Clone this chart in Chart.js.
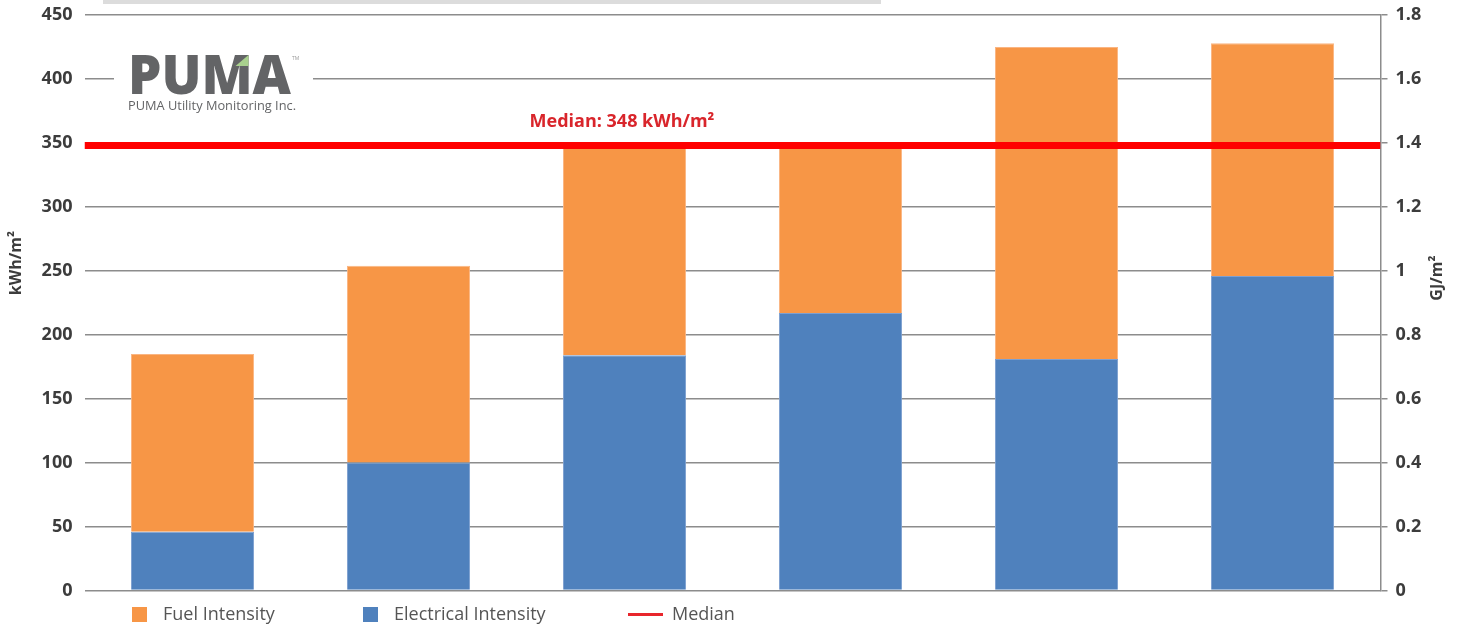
<!DOCTYPE html>
<html>
<head>
<meta charset="utf-8">
<title>Energy Use Intensity</title>
<script src="https://cdn.jsdelivr.net/npm/chart.js@4.4.1/dist/chart.umd.min.js"></script>
<style>
  html, body { margin: 0; padding: 0; background: #ffffff; }
  #wrap { width: 1470px; height: 628px; position: relative; }
</style>
</head>
<body>
<div id="wrap"><canvas id="eui" width="1470" height="628"></canvas></div>
<script>
// Buildings (no labels are printed under the bars)
const buildings = ['1', '2', '3', '4', '5', '6'];

// Intensities in kWh/m²
const electricalIntensity = [46, 100, 184, 217, 181, 246];
const fuelIntensity       = [139, 154, 165, 131, 244, 182];

// Portfolio median, kWh/m²
const medianIntensity = 348;

// Axis ranges and steps
const kwhMax = 450, kwhStep = 50;
const gjMax = 1.8, gjStep = 0.2;

const legendLabels = ['Fuel Intensity', 'Electrical Intensity', 'Median'];

const COLORS = {
  fuel: '#F79646',
  elec: '#4F81BD',
  median: '#FF0000',
  medianText: '#D9252B',
  grid: '#8c8c8c',
  tick: '#3c3c3c',
  legend: '#555555',
  logo: '#636466'
};

const tickFont = { family: 'Open Sans', weight: 'bold', size: 18 };

// keep the plot area fixed: the scales do not reserve room for half-labels
function fixWidth(w) {
  return s => { s.width = w; s.paddingTop = 0; s.paddingBottom = 0; };
}

// Header strip, logo, axis titles, median caption and legend
const decorations = {
  id: 'decorations',
  beforeDraw(chart) {
    const ctx = chart.ctx;
    ctx.save();
    ctx.fillStyle = '#dcdcdc';
    ctx.fillRect(103, 0, 778, 4);
    ctx.restore();
  },
  beforeDatasetsDraw(chart) {
    const ctx = chart.ctx;
    ctx.save();
    // white panel behind the logo
    ctx.fillStyle = '#ffffff';
    ctx.fillRect(114, 48, 199, 70);

    // wordmark
    ctx.fillStyle = COLORS.logo;
    ctx.font = '800 54px "Open Sans"';
    ctx.textBaseline = 'alphabetic';
    ctx.textAlign = 'left';
    const w = ctx.measureText('PUMA').width;
    ctx.save();
    ctx.translate(128, 93.5);
    ctx.scale(163 / w, 1);
    ctx.fillText('PUMA', 0, 0);
    ctx.restore();

    // accent on the M
    ctx.fillStyle = '#a9d18e';
    ctx.beginPath();
    ctx.moveTo(235.5, 66);
    ctx.lineTo(248.5, 55);
    ctx.lineTo(248.5, 66);
    ctx.closePath();
    ctx.fill();

    ctx.fillStyle = '#9a9a9a';
    ctx.font = '5px "Open Sans"';
    ctx.fillText('TM', 292, 60);

    ctx.fillStyle = COLORS.logo;
    ctx.font = '12px "Open Sans"';
    const t = 'PUMA Utility Monitoring Inc.';
    const tw = ctx.measureText(t).width;
    ctx.save();
    ctx.translate(128, 110);
    ctx.scale(168 / tw, 1);
    ctx.fillText(t, 0, 0);
    ctx.restore();
    ctx.restore();
  },
  afterDraw(chart) {
    const ctx = chart.ctx;
    const y = chart.scales.y;
    ctx.save();

    // axis titles, both reading bottom-to-top
    ctx.fillStyle = COLORS.tick;
    ctx.font = 'bold 16px "Open Sans"';
    ctx.textAlign = 'center';
    ctx.textBaseline = 'middle';
    [['kWh/m²', 16, 263], ['GJ/m²', 1437, 278]].forEach(([txt, x, cy]) => {
      ctx.save();
      ctx.translate(x, cy);
      ctx.rotate(-Math.PI / 2);
      ctx.fillText(txt, 0, 0);
      ctx.restore();
    });

    // median caption above the line
    const my = y.getPixelForValue(medianIntensity);
    ctx.fillStyle = COLORS.medianText;
    ctx.font = 'bold 18px "Open Sans"';
    ctx.textAlign = 'center';
    ctx.textBaseline = 'alphabetic';
    ctx.fillText('Median: ' + medianIntensity + ' kWh/m²', 622, my - 18.5);

    // legend
    const ly = 614.5;
    ctx.font = '18px "Open Sans"';
    ctx.textAlign = 'left';
    ctx.textBaseline = 'middle';
    const items = [
      { x: 132, color: COLORS.fuel, kind: 'box', label: legendLabels[0] },
      { x: 363, color: COLORS.elec, kind: 'box', label: legendLabels[1] },
      { x: 628, color: '#E8262C', kind: 'line', label: legendLabels[2] }
    ];
    items.forEach(it => {
      ctx.fillStyle = it.color;
      let tx;
      if (it.kind === 'box') {
        ctx.fillRect(it.x, ly - 7.5, 15, 15);
        tx = it.x + 31;
      } else {
        ctx.fillRect(it.x, ly - 1.5, 35, 3);
        tx = it.x + 44;
      }
      ctx.fillStyle = COLORS.legend;
      ctx.fillText(it.label, tx, ly);
    });
    ctx.restore();
  }
};

new Chart(document.getElementById('eui'), {
  type: 'bar',
  data: {
    labels: buildings,
    datasets: [
      {
        type: 'bar',
        label: 'Electrical Intensity',
        data: electricalIntensity,
        backgroundColor: COLORS.elec,
        borderColor: '#7d9fd0',
        borderWidth: 1,
        grouped: false,
        xAxisID: 'x',
        yAxisID: 'y',
        order: 1
      },
      {
        type: 'bar',
        label: 'Fuel Intensity',
        data: fuelIntensity,
        backgroundColor: COLORS.fuel,
        borderColor: '#fab582',
        borderWidth: 1,
        grouped: false,
        xAxisID: 'x',
        yAxisID: 'y',
        order: 1
      },
      {
        type: 'line',
        label: 'Median',
        xAxisID: 'xm',
        yAxisID: 'ym',
        data: [{ x: 0, y: medianIntensity }, { x: 1, y: medianIntensity }],
        borderColor: COLORS.median,
        borderWidth: 7,
        pointRadius: 0,
        fill: false,
        order: 0
      }
    ]
  },
  options: {
    responsive: false,
    animation: false,
    devicePixelRatio: 1,
    layout: { padding: { top: 15, left: 0, right: 0, bottom: 0 } },
    datasets: { bar: { categoryPercentage: 1, barPercentage: 0.57 } },
    plugins: { legend: { display: false }, tooltip: { enabled: false } },
    scales: {
      x: {
        stacked: true,
        offset: true,
        grid: { display: false },
        border: { display: false },
        ticks: { display: false },
        afterFit(s) { s.height = 37.5; }
      },
      xm: { type: 'linear', display: false, offset: false, min: 0, max: 1 },
      ym: { type: 'linear', display: false, min: 0, max: kwhMax },
      y: {
        stacked: true,
        position: 'left',
        min: 0,
        max: kwhMax,
        ticks: { stepSize: kwhStep, color: COLORS.tick, font: tickFont, padding: 12 },
        grid: { color: COLORS.grid, lineWidth: 1.5, drawTicks: false },
        border: { display: false },
        afterFit: fixWidth(84.5)
      },
      y2: {
        position: 'right',
        min: 0,
        max: gjMax,
        ticks: {
          stepSize: gjStep,
          color: COLORS.tick,
          font: tickFont,
          padding: 8,
          callback: v => String(Number(v.toFixed(1)))
        },
        grid: { drawOnChartArea: false, tickLength: 7, color: COLORS.grid, lineWidth: 1.5 },
        border: { display: true, color: COLORS.grid, width: 1.5 },
        afterFit: fixWidth(89.5)
      }
    }
  },
  plugins: [decorations]
});
</script>
</body>
</html>
